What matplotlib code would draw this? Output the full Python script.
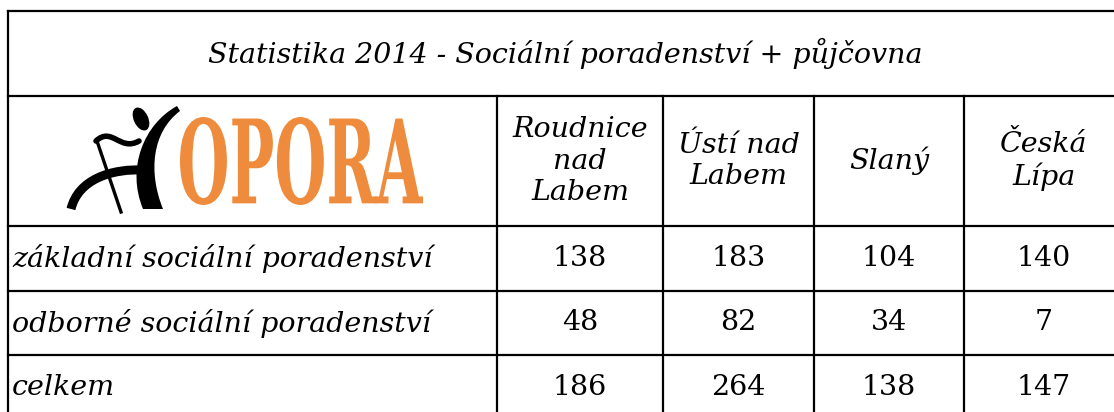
"""
Statistika 2014 - table of social counselling counts per branch.
"""
import matplotlib.pyplot as plt
from matplotlib.textpath import TextPath
from matplotlib.font_manager import FontProperties
from matplotlib.patches import PathPatch, Ellipse
from matplotlib.path import Path
import matplotlib.transforms as mtransforms

# the data
title = "Statistika 2014 - Sociální poradenství + půjčovna"
logo_text = "OPORA"
cities = ["Roudnice\nnad\nLabem", "Ústí nad\nLabem", "Slaný", "Česká\nLípa"]
row_labels = ["základní sociální poradenství",
              "odborné sociální poradenství",
              "celkem"]
zakladni = [138, 183, 104, 140]
odborne = [48, 82, 34, 7]
celkem = [186, 264, 138, 147]

# layout in pixels
col_edges = [7.5, 497, 663, 814, 964, 1124]
row_edges = [11, 96, 226, 291, 355, 420]
LW = 1.6
FS = 20.5
ORANGE = "#EE8B3C"


def draw_grid(ax):
    left, right = col_edges[0], col_edges[-1]
    for y in row_edges:
        ax.plot([left, right], [y, y], color="black", lw=LW,
                solid_capstyle="projecting")
    ax.plot([left, left], [row_edges[0], row_edges[-1]], color="black",
            lw=LW, solid_capstyle="projecting")
    for x in col_edges[1:]:
        ax.plot([x, x], [row_edges[1], row_edges[-1]], color="black",
                lw=LW, solid_capstyle="projecting")


def draw_logo(ax):
    # orange word, squeezed into the box it has in the picture
    tp = TextPath((0, 0), logo_text,
                  prop=FontProperties(family="DejaVu Serif", weight="bold"))
    ext = tp.get_extents()
    x0, y0, x1, y1 = 180, 117, 423, 205
    tr = (mtransforms.Affine2D()
          .translate(-ext.x0, -ext.y0)
          .scale((x1 - x0) / ext.width, -(y1 - y0) / ext.height)
          .translate(x0, y1))
    ax.add_patch(PathPatch(tr.transform_path(tp), color=ORANGE, lw=0))

    # little black figure with a cane
    ax.add_patch(Ellipse((141, 119), 13, 23, angle=-25, color="black"))
    body = Path([(177, 106), (144, 124), (126, 168), (143, 209),
                 (163, 209), (148, 172), (152, 132), (180, 111), (177, 106)],
                [Path.MOVETO, Path.CURVE4, Path.CURVE4, Path.CURVE4,
                 Path.LINETO, Path.CURVE4, Path.CURVE4, Path.CURVE4,
                 Path.CLOSEPOLY])
    ax.add_patch(PathPatch(body, color="black", lw=0))
    arm = Path([(96, 141), (112, 126), (120, 152), (139, 141)],
               [Path.MOVETO, Path.CURVE4, Path.CURVE4, Path.CURVE4])
    ax.add_patch(PathPatch(arm, fill=False, color="black", lw=4,
                           capstyle="round"))
    leg = Path([(71, 209), (78, 180), (110, 168), (147, 170)],
               [Path.MOVETO, Path.CURVE4, Path.CURVE4, Path.CURVE4])
    ax.add_patch(PathPatch(leg, fill=False, color="black", lw=6.5,
                           capstyle="butt"))
    ax.plot([97, 121], [141, 212], color="black", lw=2.4)


def main():
    plt.rcParams["font.family"] = ["DejaVu Serif"]
    fig = plt.figure(figsize=(11.14, 4.12), dpi=100)
    ax = fig.add_axes([0, 0, 1, 1])
    ax.set_xlim(0, 1114)
    ax.set_ylim(412, 0)
    ax.axis("off")

    draw_grid(ax)
    draw_logo(ax)

    ax.text((col_edges[0] + col_edges[-1]) / 2, (row_edges[0] + row_edges[1]) / 2,
            title, ha="center", va="center", fontsize=FS, style="italic")

    for i, city in enumerate(cities):
        cx = (col_edges[i + 1] + col_edges[i + 2]) / 2
        cy = (row_edges[1] + row_edges[2]) / 2
        ax.text(cx, cy, city, ha="center", va="center", ma="center",
                fontsize=FS, style="italic", linespacing=1.2)

    table = [zakladni, odborne, celkem]
    for r, (label, values) in enumerate(zip(row_labels, table)):
        cy = (row_edges[r + 2] + row_edges[r + 3]) / 2
        ax.text(12, cy, label, ha="left", va="center", fontsize=FS,
                style="italic")
        for i, v in enumerate(values):
            cx = (col_edges[i + 1] + col_edges[i + 2]) / 2
            ax.text(cx, cy, str(v), ha="center", va="center", fontsize=FS)

    fig.savefig("out.png", dpi=100)


if __name__ == "__main__":
    main()
